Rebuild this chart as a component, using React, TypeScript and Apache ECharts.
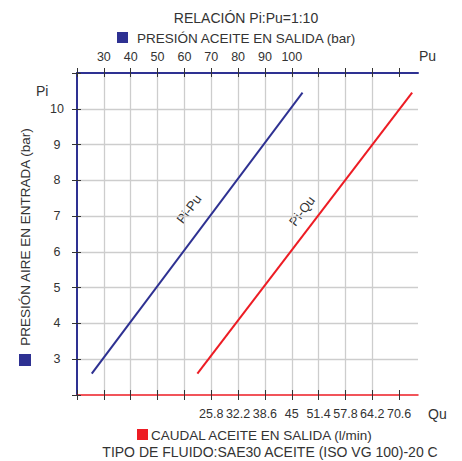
import React, { useEffect, useRef } from "react";
import * as echarts from "echarts";

// ---- Data ----
const piValues = [2.6, 10.45]; // Pi (bar) at line start / end
const puValues = [25.5, 104]; // Pu (bar) for Pi-Pu line
const quValues = [22.5, 73.7]; // Qu (l/min) for Pi-Qu line

const puTicks = [20, 30, 40, 50, 60, 70, 80, 90, 100, 110, 120, 130, 140];
const puLabels = [30, 40, 50, 60, 70, 80, 90, 100];
const quTicks = [-6.2, 0.2, 6.6, 13, 19.4, 25.8, 32.2, 38.6, 45, 51.4, 57.8, 64.2, 70.6];
const quLabels = [25.8, 32.2, 38.6, 45, 51.4, 57.8, 64.2, 70.6];
const piLabels = [3, 4, 5, 6, 7, 8, 9, 10];

const BLUE = "#2E3192";
const RED = "#ED1C24";
const GRID = "#cdcdcd";
const TEXT = "#333333";
const TICK = "#333333";
const FONT = "'Liberation Sans', Arial, sans-serif";

export default function App() {
  const ref = useRef<HTMLDivElement>(null);

  useEffect(() => {
    document.body.style.margin = "0";
    if (!ref.current) return;
    const chart = echarts.init(ref.current, null, { renderer: "svg" });

    const bluePts = piValues.map((p, i) => [puValues[i], p]);
    const redPts = piValues.map((p, i) => [quValues[i], p]);

    const fmt = (v: number) => String(Math.round(v * 10) / 10);

    const option: any = {
      animation: false,
      textStyle: { fontFamily: FONT },
      grid: { left: 77, right: 44, top: 73, bottom: 66, containLabel: false },
      xAxis: [
        {
          type: "value",
          position: "top",
          min: 20,
          max: 147,
          interval: 10,
          axisLine: { show: true, onZero: false, lineStyle: { color: BLUE, width: 2 } },
          axisTick: { show: true, customValues: puTicks, length: 5, lineStyle: { color: TICK, width: 1 } },
          axisLabel: {
            show: true,
            customValues: puLabels,
            formatter: fmt,
            fontSize: 12.5,
            color: TEXT,
            fontFamily: FONT,
            margin: 10,
          },
          splitLine: { show: true, showMinLine: false, showMaxLine: false, lineStyle: { color: GRID, width: 1.3 } },
        },
        {
          type: "value",
          position: "top",
          min: 20,
          max: 147,
          interval: 10,
          axisLine: { show: false, onZero: false },
          axisTick: { show: true, inside: true, customValues: puTicks, length: 4, lineStyle: { color: TICK, width: 1 } },
          axisLabel: { show: false },
          splitLine: { show: false },
        },
        {
          type: "value",
          position: "bottom",
          min: -6.2,
          max: 75.1,
          axisLine: { show: true, onZero: false, lineStyle: { color: RED, width: 1.5 } },
          axisTick: { show: true, customValues: quTicks, length: 5, lineStyle: { color: TICK, width: 1 } },
          axisLabel: {
            show: true,
            customValues: quLabels,
            formatter: fmt,
            fontSize: 12.5,
            color: TEXT,
            fontFamily: FONT,
            margin: 12,
          },
          splitLine: { show: false },
        },
        {
          type: "value",
          position: "bottom",
          min: -6.2,
          max: 75.1,
          axisLine: { show: false, onZero: false },
          axisTick: { show: true, inside: true, customValues: quTicks, length: 5, lineStyle: { color: TICK, width: 1 } },
          axisLabel: { show: false },
          splitLine: { show: false },
        },
      ],
      yAxis: [
        {
          type: "value",
          position: "left",
          min: 2,
          max: 11,
          interval: 1,
          axisLine: { show: true, onZero: false, lineStyle: { color: BLUE, width: 2 } },
          axisTick: { show: true, length: 5, lineStyle: { color: TICK, width: 1 } },
          axisLabel: {
            show: true,
            customValues: piLabels,
            formatter: fmt,
            fontSize: 12.5,
            color: TEXT,
            fontFamily: FONT,
            align: "center",
            margin: 20,
          },
          splitLine: { show: true, showMinLine: false, showMaxLine: false, lineStyle: { color: GRID, width: 1.3 } },
        },
        {
          type: "value",
          position: "left",
          min: 2,
          max: 11,
          interval: 1,
          axisLine: { show: false, onZero: false },
          axisTick: { show: true, inside: true, length: 4, lineStyle: { color: TICK, width: 1 } },
          axisLabel: { show: false },
          splitLine: { show: false },
        },
      ],
      series: [
        {
          name: "Pi-Pu",
          type: "line",
          xAxisIndex: 0,
          yAxisIndex: 0,
          data: bluePts,
          showSymbol: false,
          lineStyle: { color: BLUE, width: 2 },
          z: 5,
        },
        {
          name: "Pi-Qu",
          type: "line",
          xAxisIndex: 2,
          yAxisIndex: 0,
          data: redPts,
          showSymbol: false,
          lineStyle: { color: RED, width: 2 },
          z: 5,
        },
      ],
      graphic: [
        {
          type: "text",
          x: 246,
          y: 18,
          style: { text: "RELACIÓN Pi:Pu=1:10", font: `14px ${FONT}`, fill: TEXT, align: "center", verticalAlign: "middle" },
        },
        { type: "rect", shape: { x: 117, y: 32, width: 11, height: 11 }, style: { fill: BLUE } },
        {
          type: "text",
          x: 137,
          y: 38,
          style: { text: "PRESIÓN ACEITE EN SALIDA (bar)", font: `13.5px ${FONT}`, fill: TEXT, align: "left", verticalAlign: "middle" },
        },
        {
          type: "text",
          x: 419,
          y: 56,
          style: { text: "Pu", font: `14px ${FONT}`, fill: TEXT, align: "left", verticalAlign: "middle" },
        },
        {
          type: "text",
          x: 36,
          y: 91,
          style: { text: "Pi", font: `14px ${FONT}`, fill: TEXT, align: "left", verticalAlign: "middle" },
        },
        {
          type: "text",
          x: 428,
          y: 414,
          style: { text: "Qu", font: `14px ${FONT}`, fill: TEXT, align: "left", verticalAlign: "middle" },
        },
        { type: "rect", shape: { x: 137, y: 429, width: 11, height: 11 }, style: { fill: RED } },
        {
          type: "text",
          x: 151,
          y: 435,
          style: { text: "CAUDAL ACEITE EN SALIDA (l/min)", font: `13.5px ${FONT}`, fill: TEXT, align: "left", verticalAlign: "middle" },
        },
        {
          type: "text",
          x: 270,
          y: 452,
          style: { text: "TIPO DE FLUIDO:SAE30 ACEITE (ISO VG 100)-20 C", font: `14px ${FONT}`, fill: TEXT, align: "center", verticalAlign: "middle" },
        },
        { type: "rect", shape: { x: 19, y: 354, width: 12, height: 12 }, style: { fill: BLUE } },
        {
          type: "text",
          x: 25,
          y: 237,
          rotation: Math.PI / 2,
          style: { text: "PRESIÓN AIRE EN ENTRADA (bar)", font: `13.5px ${FONT}`, fill: TEXT, align: "center", verticalAlign: "middle" },
        },
        {
          type: "text",
          x: 189,
          y: 209,
          rotation: (53 * Math.PI) / 180,
          style: { text: "Pi-Pu", font: `13px ${FONT}`, fill: TEXT, align: "center", verticalAlign: "middle" },
        },
        {
          type: "text",
          x: 302,
          y: 211,
          rotation: (53 * Math.PI) / 180,
          style: { text: "Pi-Qu", font: `13px ${FONT}`, fill: TEXT, align: "center", verticalAlign: "middle" },
        },
      ],
    };

    chart.setOption(option);
    return () => chart.dispose();
  }, []);

  return <div ref={ref} style={{ position: "absolute", left: 0, top: 0, width: 462, height: 461 }} />;
}
